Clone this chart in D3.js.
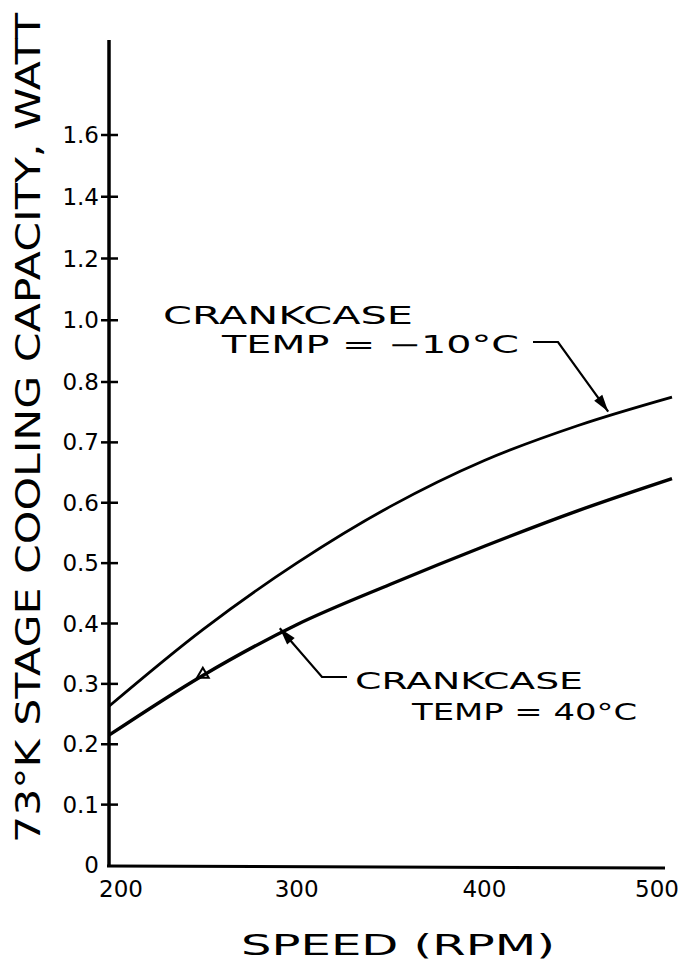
<!DOCTYPE html>
<html>
<head>
<meta charset="utf-8">
<script src="https://cdn.jsdelivr.net/npm/d3@7"></script>
<style>
  html, body { margin: 0; padding: 0; background: #fff; }
  svg text { font-family: "DejaVu Sans", sans-serif; fill: #000; }
</style>
</head>
<body>
<div id="chart"></div>
<script>
// speed in rpm
const speeds = [200, 250, 300, 350, 400, 450, 500];
// cooling capacity (W) at crankcase temp -10°C and 40°C
const coldCase = [0.263, 0.390, 0.500, 0.594, 0.670, 0.728, 0.775];
const warmCase = [0.215, 0.314, 0.398, 0.465, 0.528, 0.587, 0.640];
const yTicks = [0, 0.1, 0.2, 0.3, 0.4, 0.5, 0.6, 0.7, 0.8, 1.0, 1.2, 1.4, 1.6];
const xTicks = [200, 300, 400, 500];

const width = 697, height = 966;

const svg = d3.select('#chart')
  .append('svg')
  .attr('width', width)
  .attr('height', height);

// the hand-drawn axis is stretched: 0–0.8 in steps of 0.1, then 1.0–1.6 in steps of 0.2
const x = d3.scaleLinear().domain([200, 500]).range([109, 672]);
const y = d3.scaleLinear().domain([0, 0.8, 1.6]).range([865, 382, 135]);

// axes
svg.append('line')
  .attr('x1', 109).attr('x2', 109)
  .attr('y1', 40).attr('y2', y(0) + 1)
  .attr('stroke', '#000').attr('stroke-width', 3.5);

svg.append('line')
  .attr('x1', 107).attr('x2', 665)
  .attr('y1', y(0) + 1).attr('y2', y(0) + 3)
  .attr('stroke', '#000').attr('stroke-width', 3);

svg.selectAll('line.ytick')
  .data(yTicks.filter(d => d > 0))
  .join('line')
  .attr('class', 'ytick')
  .attr('x1', 101).attr('x2', 118)
  .attr('y1', d => y(d)).attr('y2', d => y(d))
  .attr('stroke', '#000').attr('stroke-width', 2.5);

svg.selectAll('text.ylab')
  .data(yTicks)
  .join('text')
  .attr('class', 'ylab')
  .attr('x', 99)
  .attr('y', d => y(d) + 8)
  .attr('text-anchor', 'end')
  .style('font-size', '23px')
  .text(d => d === 0 ? '0' : d.toFixed(1));

svg.selectAll('text.xlab')
  .data(xTicks)
  .join('text')
  .attr('class', 'xlab')
  .attr('x', d => d === 200 ? x(d) + 12 : d === 500 ? x(d) - 15 : x(d))
  .attr('y', 897)
  .attr('text-anchor', 'middle')
  .style('font-size', '23px')
  .text(d => d);

svg.append('text')
  .attr('x', 398)
  .attr('y', 955)
  .attr('text-anchor', 'middle')
  .attr('textLength', 314)
  .attr('lengthAdjust', 'spacingAndGlyphs')
  .style('font-size', '29px')
  .text('SPEED (RPM)');

svg.append('text')
  .attr('transform', 'translate(40,428) rotate(-90)')
  .attr('text-anchor', 'middle')
  .attr('textLength', 830)
  .attr('lengthAdjust', 'spacingAndGlyphs')
  .style('font-size', '34px')
  .text('73°K STAGE COOLING CAPACITY, WATT');

// curves
const line = d3.line()
  .x((d, i) => x(speeds[i]))
  .y(d => y(d))
  .curve(d3.curveCatmullRom);

svg.append('path')
  .datum(coldCase)
  .attr('d', line)
  .attr('fill', 'none')
  .attr('stroke', '#000')
  .attr('stroke-width', 2.8);

svg.append('path')
  .datum(warmCase)
  .attr('d', line)
  .attr('fill', 'none')
  .attr('stroke', '#000')
  .attr('stroke-width', 3.4);

// little triangle drawn on the 40°C curve
svg.append('path')
  .attr('d', d3.symbol(d3.symbolTriangle, 60)())
  .attr('transform', `translate(${x(speeds[1])},${y(warmCase[1]) - 1})`)
  .attr('fill', 'none')
  .attr('stroke', '#000')
  .attr('stroke-width', 2);

// annotations with leader arrows
function arrow(tip, pts) {
  svg.append('polyline')
    .attr('points', pts.map(p => p.join(',')).join(' '))
    .attr('fill', 'none')
    .attr('stroke', '#000')
    .attr('stroke-width', 2.2);
  const prev = pts[pts.length - 2];
  const ang = Math.atan2(tip[1] - prev[1], tip[0] - prev[0]);
  const len = 17, half = 5;
  const bx = tip[0] - len * Math.cos(ang), by = tip[1] - len * Math.sin(ang);
  svg.append('path')
    .attr('d', `M${tip[0]},${tip[1]}L${bx - half * Math.sin(ang)},${by + half * Math.cos(ang)}L${bx + half * Math.sin(ang)},${by - half * Math.cos(ang)}Z`)
    .attr('fill', '#000');
}

const tipCold = [x(466), y(0.751)];
arrow(tipCold, [[533, 342], [558, 342], tipCold]);

const tipWarm = [x(291), y(0.392)];
arrow(tipWarm, [[347, 677], [322, 677], tipWarm]);

function label(txt, x0, x1, base, size) {
  svg.append('text')
    .attr('x', x0)
    .attr('y', base)
    .attr('textLength', x1 - x0)
    .attr('lengthAdjust', 'spacingAndGlyphs')
    .style('font-size', size + 'px')
    .text(txt);
}

label('CRANKCASE', 163, 413, 324, 24);
label('TEMP = −10°C', 222, 519, 353, 24);
label('CRANKCASE', 355, 583, 689, 23);
label('TEMP = 40°C', 412, 637, 720, 23);
</script>
</body>
</html>
